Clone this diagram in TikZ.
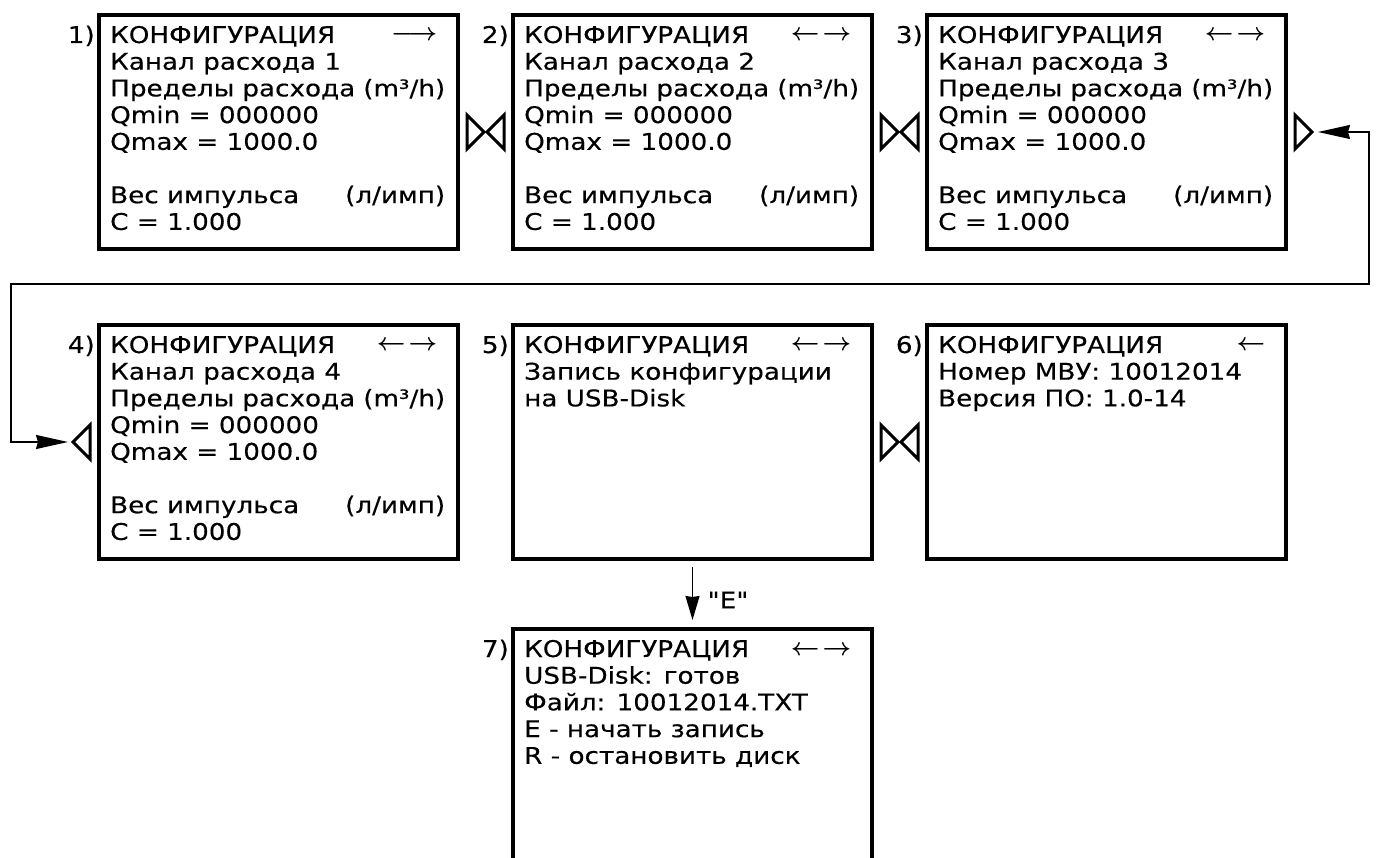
\documentclass[tikz,border=0pt]{standalone}
\usepackage{fontspec}
\setmainfont{DejaVu Sans}[FakeStretch=1.14, FakeBold=0.3, Ligatures=TeXOff]
\usetikzlibrary{arrows.meta}
\tikzset{
  box/.style={draw, line width=4pt, minimum width=359pt, minimum height=234pt, inner sep=0pt, anchor=north west},
  txt/.style={inner sep=0pt, anchor=base west, font=\fontsize{23}{26.7}\selectfont},
  lbl/.style={inner sep=0pt, anchor=base east, font=\fontsize{23}{26.7}\selectfont},
  tri/.style={draw, line width=3pt, line join=miter},
  conn/.style={draw, line width=1.5pt}
}
\newcommand{\boxtext}[1]{\parbox[t]{335pt}{\fontsize{23}{26.7}\selectfont #1}}
\newcommand{\lr}{\raisebox{2pt}{$\boldsymbol{\leftarrow}$}\hspace{3pt}\raisebox{2pt}{$\boldsymbol{\rightarrow}$}}
\newcommand{\ra}{\raisebox{2pt}{$\boldsymbol{\longrightarrow}$}}
\newcommand{\la}{\raisebox{2pt}{$\boldsymbol{\leftarrow}$}}
\usepackage{amsmath}
\begin{document}
\begin{tikzpicture}[x=1pt,y=-1pt]
\useasboundingbox (0,0) rectangle (1379,858);
\clip (0,0) rectangle (1379,858);
% boxes
\node[box] (b1) at (97,13) {};
\node[box] (b2) at (511,13) {};
\node[box] (b3) at (925,13) {};
\node[box] (b4) at (97,323) {};
\node[box] (b5) at (511,323) {};
\node[box] (b6) at (925,323) {};
\node[box, minimum height=270pt] (b7) at (511,627) {};
% labels
\foreach \b/\n in {b1/1,b2/2,b3/3,b4/4,b5/5,b6/6,b7/7}{
  \node[lbl] (l\n) at ([xshift=-2pt,yshift=-30pt]\b.north west) {\n)};
}
% texts
\node[txt] (t1) at ([xshift=13pt,yshift=-30pt]b1.north west) {\boxtext{%
КОНФИГУРАЦИЯ\hfill \ra\hspace*{8pt}\\
Канал расхода 1\\
Пределы расхода (m³/h)\\
Qmin = 000000\\
Qmax = 1000.0\\
\mbox{}\\
Вес импульса\hfill (л/имп)\\
C = 1.000}};
\node[txt] (t2) at ([xshift=13pt,yshift=-30pt]b2.north west) {\boxtext{%
КОНФИГУРАЦИЯ\hfill \lr\hspace*{8pt}\\
Канал расхода 2\\
Пределы расхода (m³/h)\\
Qmin = 000000\\
Qmax = 1000.0\\
\mbox{}\\
Вес импульса\hfill (л/имп)\\
C = 1.000}};
\node[txt] (t3) at ([xshift=13pt,yshift=-30pt]b3.north west) {\boxtext{%
КОНФИГУРАЦИЯ\hfill \lr\hspace*{8pt}\\
Канал расхода 3\\
Пределы расхода (m³/h)\\
Qmin = 000000\\
Qmax = 1000.0\\
\mbox{}\\
Вес импульса\hfill (л/имп)\\
C = 1.000}};
\node[txt] (t4) at ([xshift=13pt,yshift=-30pt]b4.north west) {\boxtext{%
КОНФИГУРАЦИЯ\hfill \lr\hspace*{8pt}\\
Канал расхода 4\\
Пределы расхода (m³/h)\\
Qmin = 000000\\
Qmax = 1000.0\\
\mbox{}\\
Вес импульса\hfill (л/имп)\\
C = 1.000}};
\node[txt] (t5) at ([xshift=13pt,yshift=-30pt]b5.north west) {\boxtext{%
КОНФИГУРАЦИЯ\hfill \lr\hspace*{8pt}\\
Запись конфигурации\\
на USB-Disk}};
\node[txt] (t6) at ([xshift=13pt,yshift=-30pt]b6.north west) {\boxtext{%
КОНФИГУРАЦИЯ\hfill \la\hspace*{8pt}\\
Номер МВУ: 10012014\\
Версия ПО: 1.0-14}};
\node[txt] (t7) at ([xshift=13pt,yshift=-30pt]b7.north west) {\boxtext{%
КОНФИГУРАЦИЯ\hfill \lr\hspace*{8pt}\\
USB-Disk: готов\\
Файл: 10012014.TXT\\
E - начать запись\\
R - остановить диск}};
% triangles (right-pointing after a box)
\foreach \b in {b1,b2,b3,b5}{
  \draw[tri] ([xshift=7pt,yshift=17pt]\b.east) -- ([xshift=24pt]\b.east) -- ([xshift=7pt,yshift=-17pt]\b.east) -- cycle;
}
% triangles (left-pointing before a box)
\foreach \b in {b2,b3,b4,b6}{
  \draw[tri] ([xshift=-7pt,yshift=17pt]\b.west) -- ([xshift=-24pt]\b.west) -- ([xshift=-7pt,yshift=-17pt]\b.west) -- cycle;
}
% loop connector from box 3 to box 4
\coordinate (a3) at ([xshift=30pt]b3.east);
\coordinate (a4) at ([xshift=-29pt]b4.west);
\coordinate (r1) at (1369,284);
\coordinate (q1) at (11,284);
\draw[conn, {Stealth[length=32pt,width=14pt,inset=2pt]}-{Stealth[length=32pt,width=14pt,inset=2pt]}] (a3) -| (r1) -- (q1) |- (a4);
% arrow from box 5 to box 7
\draw[conn, -{Stealth[length=24pt,width=14pt,inset=1pt]}] ([yshift=-6pt]b5.south) -- ([yshift=7pt]b7.north);
\node[inner sep=0pt, font=\fontsize{23}{26.7}\selectfont] (e) at (728,600) {"E"};
\end{tikzpicture}
\end{document}
